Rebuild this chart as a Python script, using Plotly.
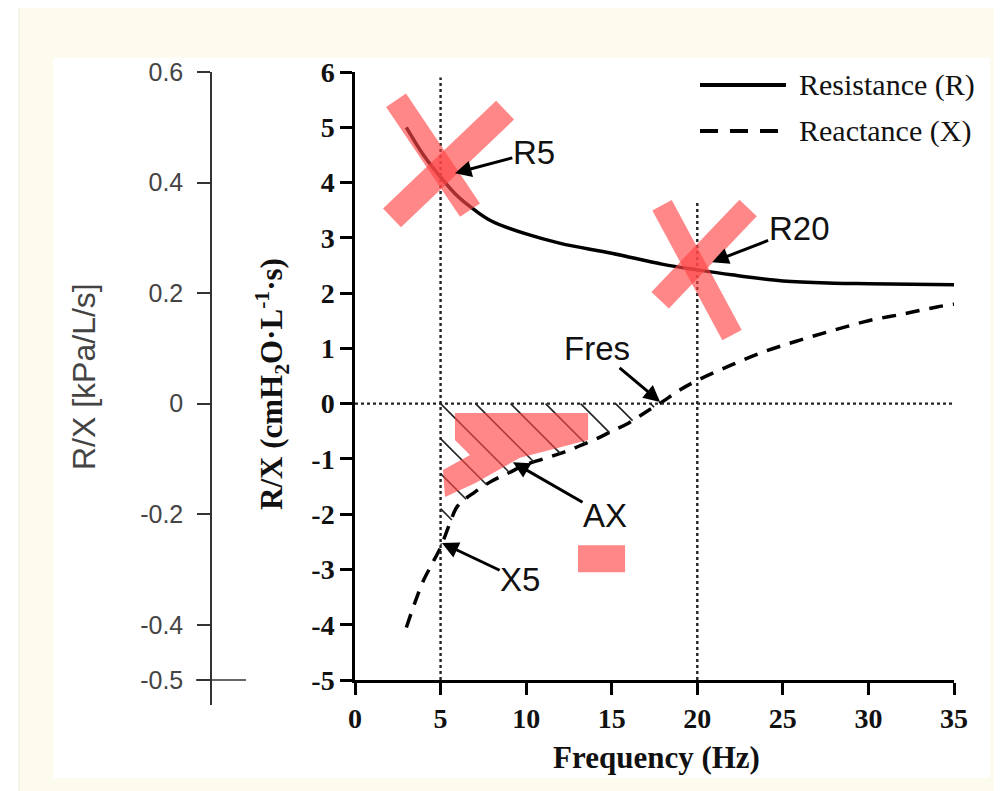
import numpy as np
import plotly.graph_objects as go

# ---------------- data ----------------
freq_R = [3, 4, 5, 6, 7, 8, 10, 12, 15, 18, 20, 22, 25, 28, 30, 35]
resistance = [5.0, 4.5, 4.1, 3.75, 3.5, 3.3, 3.07, 2.9, 2.72, 2.52, 2.42, 2.33, 2.22, 2.18, 2.17, 2.15]

freq_X = [3, 3.5, 4, 4.5, 5, 5.5, 6, 7, 8, 9, 10, 11, 12, 13, 14, 15, 16, 17, 17.8,
          19, 20, 22, 24, 26, 28, 30, 32, 34, 35]
reactance = [-4.05, -3.6, -3.2, -2.9, -2.6, -2.2, -1.85, -1.6, -1.4, -1.25, -1.1, -1.0, -0.9,
             -0.78, -0.65, -0.5, -0.35, -0.15, 0.0, 0.25, 0.42, 0.7, 0.95, 1.15, 1.33, 1.5,
             1.62, 1.75, 1.8]

x_ticks = [0, 5, 10, 15, 20, 25, 30, 35]
y_ticks = [-5, -4, -3, -2, -1, 0, 1, 2, 3, 4, 5, 6]
y_labels = ["-5", "-4", "-3", "-2", "-1", "0", "1", "2", "3", "4", "5", "6"]
kpa_ticks = [0.6, 0.4, 0.2, 0, -0.2, -0.4, -0.5]
kpa_labels = ["0.6", "0.4", "0.2", "0", "-0.2", "-0.4", "-0.5"]

ref_freqs = [5, 20]
fres = 17.8

# ---------------- geometry helpers (screen pixels -> paper) ----------------
OFF = 8  # page body margin
W, H = 994, 783
ML, MR, MT, MB = 142, 48, 64, 86
PW, PH = W - ML - MR, H - MT - MB
X_RANGE = [0, 35]
Y_RANGE = [-5, 6]
Y_DOMAIN = [25 / PH, 1]


def px(xs):
    return (xs - OFF - ML) / PW


def py(ys):
    return (H - MB - (ys - OFF)) / PH


X_DOMAIN = [px(355), 1]
PX_PER_X = PW * (X_DOMAIN[1] - X_DOMAIN[0]) / (X_RANGE[1] - X_RANGE[0])
PX_PER_Y = PH * (Y_DOMAIN[1] - Y_DOMAIN[0]) / (Y_RANGE[1] - Y_RANGE[0])

SERIF = "Liberation Serif, Times New Roman, serif"
SANS = "Liberation Sans, Arial, sans-serif"

fig = go.Figure()

fig.add_trace(go.Scatter(x=freq_R, y=resistance, mode="lines", name="Resistance (R)",
                         line=dict(color="black", width=3.5, shape="spline"), showlegend=False))
fig.add_trace(go.Scatter(x=freq_X, y=reactance, mode="lines", name="Reactance (X)",
                         line=dict(color="black", width=3.5, dash="14px,10px", shape="spline"),
                         showlegend=False))
# dummy trace for the secondary (kPa) axis
fig.add_trace(go.Scatter(x=[0], y=[0], xaxis="x2", yaxis="y2", mode="markers",
                         marker=dict(opacity=0), showlegend=False, hoverinfo="skip"))

shapes = []
# background frame
shapes.append(dict(type="rect", xref="paper", yref="paper", x0=px(19), x1=px(1004),
                   y0=py(5), y1=py(795), fillcolor="#fdfbee", line=dict(color="#ece8dc", width=1),
                   layer="below"))
shapes.append(dict(type="rect", xref="paper", yref="paper", x0=px(53), x1=px(990),
                   y0=py(58), y1=py(778), fillcolor="white", line=dict(width=0), layer="below"))

# hatching of the AX area (45-degree lines between 0 and X, from 5 Hz to Fres)
spacing_px = 35
slope = PX_PER_X / PX_PER_Y  # data-y drop per data-x for a 45 deg screen line
grid = np.linspace(ref_freqs[0], fres, 600)
curve = np.interp(grid, freq_X, reactance)
starts = []
k = 1
while True:  # starts on the x = 5 line, below zero
    y0 = -k * spacing_px / PX_PER_Y
    if y0 <= np.interp(ref_freqs[0], freq_X, reactance):
        break
    starts.append((ref_freqs[0], y0))
    k += 1
k = 0
while True:  # starts on the zero line
    x0 = ref_freqs[0] + k * spacing_px / PX_PER_X
    if x0 >= fres:
        break
    starts.append((x0, 0.0))
    k += 1
for x0, y0 in starts:
    yl = y0 - (grid - x0) * slope
    ok = (grid > x0) & (yl <= curve)
    if not ok.any():
        continue
    i = np.argmax(ok)
    shapes.append(dict(type="line", xref="x", yref="y", x0=x0, y0=y0, x1=grid[i], y1=yl[i],
                       line=dict(color="#222", width=1.6)))

# dotted reference lines
shapes.append(dict(type="line", xref="x", yref="y", x0=ref_freqs[0], x1=ref_freqs[0],
                   y0=-5, y1=5.9, line=dict(color="#222", width=2.4, dash="dot")))
shapes.append(dict(type="line", xref="x", yref="y", x0=ref_freqs[1], x1=ref_freqs[1],
                   y0=-5, y1=3.65, line=dict(color="#222", width=2.4, dash="dot")))
shapes.append(dict(type="line", xref="x", yref="y", x0=0, x1=35, y0=0, y1=0,
                   line=dict(color="#222", width=2.4, dash="dot")))

# crossing tick at -0.5 on kPa axis
shapes.append(dict(type="line", xref="paper", yref="y2", x0=px(196), x1=px(246),
                   y0=-0.5, y1=-0.5, line=dict(color="#333", width=1.5)))

# custom legend samples
shapes.append(dict(type="line", xref="paper", yref="paper", x0=px(700), x1=px(786),
                   y0=py(85), y1=py(85), line=dict(color="black", width=4)))
shapes.append(dict(type="line", xref="paper", yref="paper", x0=px(700), x1=px(786),
                   y0=py(131), y1=py(131), line=dict(color="black", width=4, dash="18px,12px")))

# red highlight marks
RED = "rgba(255,70,70,0.65)"
shapes += [
    dict(type="line", xref="x", yref="y", x0=2.4, y0=5.49, x1=6.72, y1=3.50,
         line=dict(color=RED, width=24)),
    dict(type="line", xref="x", yref="y", x0=2.16, y0=3.36, x1=8.77, y1=5.31,
         line=dict(color=RED, width=26)),
    dict(type="line", xref="x", yref="y", x0=17.94, y0=3.59, x1=22.03, y1=1.24,
         line=dict(color=RED, width=22)),
    dict(type="line", xref="x", yref="y", x0=17.83, y0=1.87, x1=22.97, y1=3.54,
         line=dict(color=RED, width=24)),
    dict(type="path", xref="x", yref="y",
         path="M5.84,-0.17 L13.62,-0.17 L13.62,-0.66 L9.64,-0.98 L7.01,-1.44 L5.26,-1.69 "
              "L5.14,-1.20 L6.72,-0.93 L5.84,-0.66 Z",
         fillcolor=RED, line=dict(width=0)),
    dict(type="rect", xref="x", yref="y", x0=13.03, x1=15.78, y0=-3.05, y1=-2.56,
         fillcolor=RED, line=dict(width=0)),
]

annotations = []
# labelled arrows: (text, tip x, tip y, label-centre x, label-centre y)
arrow_labels = [("R5", 5.84, 4.17, 10.45, 4.55),
                ("R20", 20.87, 2.56, 25.95, 3.17),
                ("Fres", 17.83, 0.03, 14.14, 0.99),
                ("AX", 9.23, -1.06, 14.61, -2.02),
                ("X5", 5.08, -2.52, 9.65, -3.19)]
for t, tx, ty, lx, ly in arrow_labels:
    annotations.append(dict(x=tx, y=ty, ax=lx, ay=ly, xref="x", yref="y", axref="x",
                            ayref="y", text=t, showarrow=True, arrowhead=2, arrowsize=1.1,
                            arrowwidth=3, arrowcolor="black", standoff=0, borderpad=0,
                            font=dict(family=SANS, size=33, color="#111")))

# legend texts
annotations.append(dict(x=px(797), y=py(85), xref="paper", yref="paper", text="Resistance (R)",
                        showarrow=False, xanchor="left", yanchor="middle",
                        font=dict(family=SERIF, size=30, color="#111")))
annotations.append(dict(x=px(797), y=py(131), xref="paper", yref="paper", text="Reactance (X)",
                        showarrow=False, xanchor="left", yanchor="middle",
                        font=dict(family=SERIF, size=30, color="#111")))

# axis titles
annotations.append(dict(x=px(656), y=py(757), xref="paper", yref="paper", text="Frequency (Hz)",
                        showarrow=False, xanchor="center", yanchor="middle",
                        font=dict(family=SERIF, size=31, color="#111", weight="bold")))
annotations.append(dict(x=px(272), y=py(384), xref="paper", yref="paper",
                        text="R/X (cmH<sub>2</sub>O·L<sup>-1</sup>·s)", textangle=-90,
                        showarrow=False, xanchor="center", yanchor="middle",
                        font=dict(family=SERIF, size=31, color="#111", weight="bold")))
annotations.append(dict(x=px(84), y=py(377), xref="paper", yref="paper",
                        text="R/X [kPa/L/s]", textangle=-90,
                        showarrow=False, xanchor="center", yanchor="middle",
                        font=dict(family=SANS, size=32, color="#444")))

fig.update_layout(
    width=W, height=H,
    margin=dict(l=ML, r=MR, t=MT, b=MB, pad=0),
    paper_bgcolor="white", plot_bgcolor="rgba(0,0,0,0)",
    showlegend=False,
    xaxis=dict(domain=X_DOMAIN, range=X_RANGE, tickvals=x_ticks, anchor="y",
               showline=True, linecolor="black", linewidth=2.5, ticks="outside", ticklen=12,
               tickwidth=2.5, tickcolor="black", showgrid=False, zeroline=False,
               tickfont=dict(family=SERIF, size=28, color="#111", weight="bold")),
    yaxis=dict(domain=Y_DOMAIN, range=Y_RANGE, tickvals=y_ticks, ticktext=y_labels,
               anchor="x", showline=True, linecolor="black", linewidth=2.5, ticks="outside",
               ticklen=12, tickwidth=2.5, tickcolor="black", showgrid=False, zeroline=False,
               tickfont=dict(family=SERIF, size=28, color="#111", weight="bold")),
    xaxis2=dict(domain=[px(212), px(212) + 0.002], range=[0, 1], visible=False, anchor="y2"),
    yaxis2=dict(domain=[0, 1], range=[-0.545, 0.6], tickvals=kpa_ticks, ticktext=kpa_labels,
                anchor="x2", side="left", showline=True, linecolor="#333", linewidth=1.5,
                ticks="outside", ticklen=13, tickwidth=1.5, tickcolor="#333",
                ticklabelstandoff=9, showgrid=False, zeroline=False,
                tickfont=dict(family=SANS, size=25, color="#444")),
    shapes=shapes,
    annotations=annotations,
)

fig.write_html("out.html")
